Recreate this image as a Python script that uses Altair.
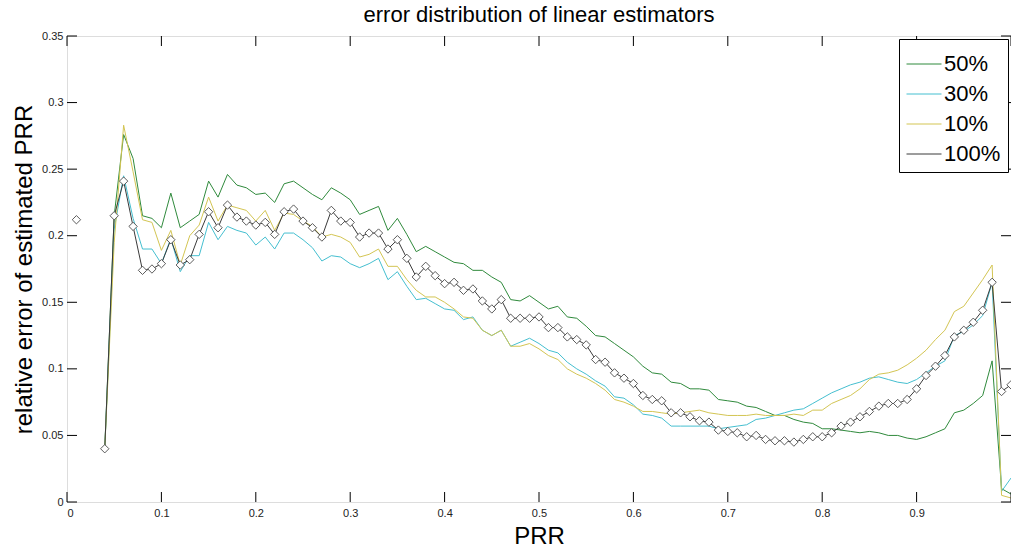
import altair as alt
import pandas as pd

# ---------------- data ----------------
prr = [i / 100 for i in range(1, 101)]  # 0.01 ... 1.00
series_names = ["50%", "30%", "10%", "100%"]
series_colors = ["#2f8a3c", "#45bfd0", "#d3c553", "#3a3a3a"]

e50 = [None, None, None, 0.040, 0.215, 0.276, 0.258, 0.215, 0.213, 0.206,
       0.232, 0.206, 0.211, 0.216, 0.241, 0.229, 0.246, 0.238, 0.236, 0.231,
       0.232, 0.225, 0.239, 0.241, 0.236, 0.231, 0.227, 0.236, 0.232, 0.227,
       0.216, 0.219, 0.222, 0.204, 0.213, 0.201, 0.188, 0.192, 0.188, 0.184,
       0.180, 0.179, 0.174, 0.174, 0.169, 0.165, 0.152, 0.151, 0.155, 0.150,
       0.145, 0.147, 0.139, 0.138, 0.132, 0.125, 0.124, 0.119, 0.114, 0.109,
       0.102, 0.097, 0.096, 0.090, 0.089, 0.085, 0.085, 0.084, 0.077, 0.076,
       0.075, 0.072, 0.071, 0.068, 0.065, 0.065, 0.062, 0.060, 0.059, 0.055,
       0.055, 0.054, 0.053, 0.052, 0.053, 0.052, 0.050, 0.050, 0.048, 0.047,
       0.049, 0.052, 0.055, 0.067, 0.069, 0.074, 0.080, 0.106, 0.010, 0.006]

e30 = [None, None, None, 0.040, 0.205, 0.245, 0.213, 0.190, 0.190, 0.179,
       0.198, 0.173, 0.185, 0.185, 0.210, 0.197, 0.207, 0.204, 0.202, 0.193,
       0.199, 0.190, 0.202, 0.202, 0.197, 0.191, 0.181, 0.185, 0.184, 0.179,
       0.176, 0.179, 0.183, 0.167, 0.173, 0.162, 0.152, 0.153, 0.149, 0.145,
       0.144, 0.137, 0.139, 0.129, 0.125, 0.129, 0.117, 0.120, 0.123, 0.119,
       0.114, 0.112, 0.105, 0.100, 0.096, 0.091, 0.087, 0.079, 0.078, 0.073,
       0.066, 0.065, 0.063, 0.057, 0.057, 0.057, 0.057, 0.057, 0.055, 0.056,
       0.057, 0.058, 0.062, 0.063, 0.065, 0.067, 0.069, 0.070, 0.074, 0.078,
       0.082, 0.085, 0.088, 0.090, 0.093, 0.094, 0.092, 0.090, 0.089, 0.092,
       0.097, 0.102, 0.106, 0.125, 0.128, 0.133, 0.140, 0.165, 0.008, 0.018]

e10 = [None, None, None, 0.040, 0.195, 0.283, 0.248, 0.212, 0.210, 0.189,
       0.204, 0.178, 0.200, 0.208, 0.229, 0.211, 0.223, 0.221, 0.219, 0.211,
       0.219, 0.204, 0.217, 0.216, 0.211, 0.207, 0.199, 0.201, 0.199, 0.195,
       0.184, 0.186, 0.190, 0.177, 0.177, 0.167, 0.159, 0.154, 0.154, 0.150,
       0.145, 0.139, 0.138, 0.129, 0.125, 0.129, 0.117, 0.117, 0.119, 0.115,
       0.110, 0.107, 0.100, 0.096, 0.093, 0.089, 0.084, 0.077, 0.075, 0.072,
       0.068, 0.068, 0.067, 0.066, 0.067, 0.068, 0.069, 0.067, 0.066, 0.065,
       0.065, 0.065, 0.066, 0.065, 0.065, 0.065, 0.066, 0.065, 0.069, 0.069,
       0.074, 0.077, 0.080, 0.085, 0.092, 0.096, 0.097, 0.099, 0.103, 0.108,
       0.114, 0.122, 0.129, 0.143, 0.147, 0.157, 0.167, 0.178, 0.005, 0.003]

e100 = [0.212, None, None, 0.040, 0.215, 0.241, 0.207, 0.174, 0.175, 0.179,
        0.197, 0.178, 0.182, 0.201, 0.218, 0.206, 0.223, 0.214, 0.211, 0.208,
        0.210, 0.201, 0.218, 0.220, 0.211, 0.206, 0.199, 0.219, 0.211, 0.210,
        0.199, 0.202, 0.202, 0.190, 0.197, 0.183, 0.169, 0.177, 0.170, 0.164,
        0.165, 0.159, 0.160, 0.151, 0.145, 0.152, 0.138, 0.138, 0.138, 0.139,
        0.131, 0.131, 0.124, 0.122, 0.118, 0.107, 0.105, 0.097, 0.093, 0.089,
        0.080, 0.077, 0.076, 0.067, 0.067, 0.064, 0.061, 0.060, 0.054, 0.053,
        0.052, 0.049, 0.050, 0.047, 0.046, 0.046, 0.045, 0.047, 0.049, 0.049,
        0.052, 0.057, 0.060, 0.064, 0.068, 0.072, 0.074, 0.074, 0.077, 0.085,
        0.095, 0.102, 0.110, 0.124, 0.129, 0.135, 0.144, 0.165, 0.083, 0.088]

x_ticks = [0, 0.1, 0.2, 0.3, 0.4, 0.5, 0.6, 0.7, 0.8, 0.9, 1.0]
x_labels = [0, 0.1, 0.2, 0.3, 0.4, 0.5, 0.6, 0.7, 0.8, 0.9]
y_ticks = [0, 0.05, 0.1, 0.15, 0.2, 0.25, 0.3, 0.35]
chart_title = "error distribution of linear estimators"

# ---------------- tables ----------------
rows = []
for name, vals in zip(series_names, [e50, e30, e10, e100]):
    for p, v in zip(prr, vals):
        rows.append({"prr": p, "series": name, "err": v})
df = pd.DataFrame(rows)
xt = pd.DataFrame({"prr": x_ticks})
yt = pd.DataFrame({"err": y_ticks})

FONT = "Liberation Sans"
W, H = 944, 466

xscale = alt.Scale(domain=[0, 1], nice=False, zero=False)
yscale = alt.Scale(domain=[0, 0.35], nice=False, zero=False)
cscale = alt.Scale(domain=series_names, range=series_colors)

x_main = alt.X("prr:Q", scale=xscale, title="PRR",
               axis=alt.Axis(values=x_labels, format="~g", ticks=False, domain=False, grid=False,
                             labelFont=FONT, labelFontSize=11, labelColor="#222", labelPadding=5,
                             title="PRR", titleFont=FONT, titleFontSize=24, titleFontWeight="normal",
                             titleColor="black", titleX=W / 2, titleY=41, titleBaseline="alphabetic",
                             titleAlign="center"))
y_main = alt.Y("err:Q", scale=yscale, title="relative error of estimated PRR",
               axis=alt.Axis(values=y_ticks, format="~g", ticks=False, domain=False, grid=False,
                             labelFont=FONT, labelFontSize=11, labelColor="#222", labelPadding=4,
                             title="relative error of estimated PRR", titleFont=FONT, titleFontSize=24,
                             titleFontWeight="normal", titleColor="black", titleAngle=270,
                             titleX=-36, titleY=H / 2, titleAlign="center", titleBaseline="alphabetic"))

base = alt.Chart(df)

leg = alt.Legend(title=None, orient="top-right", offset=3, direction="vertical",
                 symbolType="stroke", symbolSize=1225, symbolStrokeWidth=1,
                 labelFont=FONT, labelFontSize=22, labelColor="black", labelOffset=2,
                 strokeColor="black", fillColor="white", padding=7, rowPadding=1,
                 labelLimit=200)

lines = base.mark_line(strokeWidth=1, clip=True).encode(
    x=x_main, y=y_main,
    color=alt.Color("series:N", scale=cscale, legend=leg),
    detail="series:N",
)

pts100 = base.transform_filter(alt.datum.series == "100%").mark_point(
    shape="diamond", size=70, filled=True, fill="white",
    stroke="#4a4a4a", strokeWidth=0.9, opacity=1, clip=True
).encode(x="prr:Q", y="err:Q")

tick_len_x = 10 / W
tick_len_y = 0.35 * 10 / H

bottom_ticks = alt.Chart(xt).mark_rule(color="black", strokeWidth=1).encode(
    x="prr:Q", y=alt.datum(0), y2=alt.datum(tick_len_y))
top_ticks = alt.Chart(xt).mark_rule(color="black", strokeWidth=1).encode(
    x="prr:Q", y=alt.datum(0.35), y2=alt.datum(0.35 - tick_len_y))
left_ticks = alt.Chart(yt).mark_rule(color="black", strokeWidth=1).encode(
    y="err:Q", x=alt.datum(0), x2=alt.datum(tick_len_x))
right_ticks = alt.Chart(yt).mark_rule(color="black", strokeWidth=1).encode(
    y="err:Q", x=alt.datum(1), x2=alt.datum(1 - tick_len_x))

chart = alt.layer(
    lines, pts100, bottom_ticks, top_ticks, left_ticks, right_ticks,
).properties(
    width=W, height=H,
    title=alt.Title(chart_title, font=FONT, fontSize=22, fontWeight="normal", color="black",
                    anchor="middle", frame="group", offset=12, dy=9),
    autosize=alt.AutoSizeParams(type="none"),
    padding={"left": 67, "top": 36, "right": 0, "bottom": 45},
).configure_view(
    stroke="black", strokeWidth=1, fill="white"
).configure_axis(
    grid=False
).configure(background="white")

chart.save("out.html", embed_options={"renderer": "svg", "actions": False})
